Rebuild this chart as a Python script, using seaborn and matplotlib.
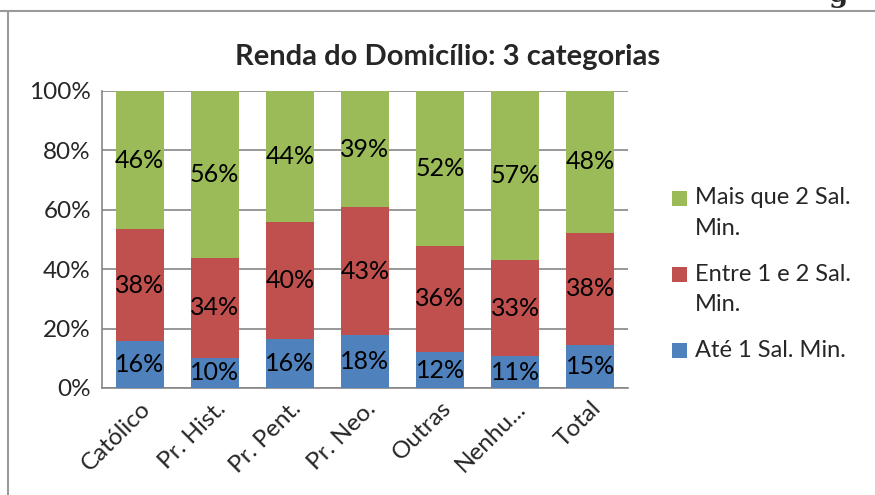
import pandas as pd
import matplotlib.pyplot as plt
from matplotlib.lines import Line2D
from matplotlib.patches import Rectangle
import seaborn as sns

categorias = ['Católico', 'Pr. Hist.', 'Pr. Pent.', 'Pr. Neo.', 'Outras', 'Nenhu...', 'Total']
ate_1 = [15.8, 10.2, 16.4, 17.7, 12.1, 10.6, 14.6]
entre_1_2 = [37.7, 33.6, 39.6, 43.2, 35.8, 32.6, 37.7]
mais_2 = [46.5, 56.2, 44.0, 39.1, 52.1, 56.8, 47.7]
series_nomes = ['Até 1 Sal. Min.', 'Entre 1 e 2 Sal.\nMin.', 'Mais que 2 Sal.\nMin.']

cores = ['#4F81BD', '#C0504D', '#9BBB59']

sns.set_theme(style='white')
plt.rcParams['font.family'] = ['Lato', 'DejaVu Sans']

df = pd.DataFrame({'cat': categorias, 'a': ate_1, 'b': entre_1_2, 'c': mais_2})
df['cum_a'] = df['a']
df['cum_b'] = df['a'] + df['b']
df['cum_c'] = df['cum_b'] + df['c']

W, H = 875, 495
fig = plt.figure(figsize=(W / 100, H / 100), dpi=100)
ax = fig.add_axes([0.1166, 0.2162, 0.601, 0.6])

# stacked bars: draw cumulative totals back to front
for col, cor in [('cum_c', cores[2]), ('cum_b', cores[1]), ('cum_a', cores[0])]:
    sns.barplot(data=df, x='cat', y=col, color=cor, width=0.64, saturation=1,
                order=categorias, ax=ax, zorder=3, edgecolor='none')

# labels in the middle of each segment
for i in range(len(categorias)):
    base = 0
    for val in [ate_1[i], entre_1_2[i], mais_2[i]]:
        ax.text(i, base + val / 2, f'{round(val)}%', ha='center', va='center',
                fontsize=18, color='black', zorder=4)
        base += val

ax.set_ylim(0, 100)
ax.set_xlim(-0.5, len(categorias) - 0.5)
ax.set_yticks(range(0, 101, 20))
ax.set_yticklabels([f'{v}%' for v in range(0, 101, 20)], fontsize=17.5)
ax.set_xticks(range(len(categorias)))
ax.set_xticklabels(categorias, fontsize=17.5, rotation=45, ha='right', rotation_mode='anchor')
ax.tick_params(axis='x', pad=7, length=0)
ax.tick_params(axis='y', pad=8, length=0)
ax.set_xlabel('')
ax.set_ylabel('')
ax.yaxis.grid(True, color='#868686', linewidth=1.2, zorder=0)
ax.set_axisbelow(True)
for s in ['top', 'right']:
    ax.spines[s].set_visible(False)
for s in ['left', 'bottom']:
    ax.spines[s].set_color('#868686')
    ax.spines[s].set_linewidth(1.2)

fig.text(0.512, 0.885, 'Renda do Domicílio: 3 categorias', ha='center', va='center',
         fontsize=21, fontweight='bold')

# legend drawn by hand so the marker sits on the first line of wrapped names
leg_y = [198, 274.5, 350.5]   # pixel rows of first line, top to bottom
for (nome, cor), y in zip([(series_nomes[2], cores[2]), (series_nomes[1], cores[1]),
                           (series_nomes[0], cores[0])], leg_y):
    fig.add_artist(Rectangle((672 / W, 1 - (y + 7.5) / H), 15 / W, 15 / H,
                             facecolor=cor, edgecolor='none', transform=fig.transFigure))
    for k, linha in enumerate(nome.split('\n')):
        fig.text(695 / W, 1 - (y + 30 * k) / H, linha, ha='left', va='center',
                 fontsize=17)

# chart border (partially cut off) and stray glyph from the page above
fig.add_artist(Line2D([0, 1], [0.978, 0.978], color='#9a9a9a', linewidth=1.5))
fig.add_artist(Line2D([0.0095, 0.0095], [0, 0.978], color='#9a9a9a', linewidth=1.5))
fig.text(0.958, 0.995, 'g', ha='center', va='baseline', fontsize=20,
         fontweight='bold', family='DejaVu Serif')

fig.savefig('out.png', dpi=100)
